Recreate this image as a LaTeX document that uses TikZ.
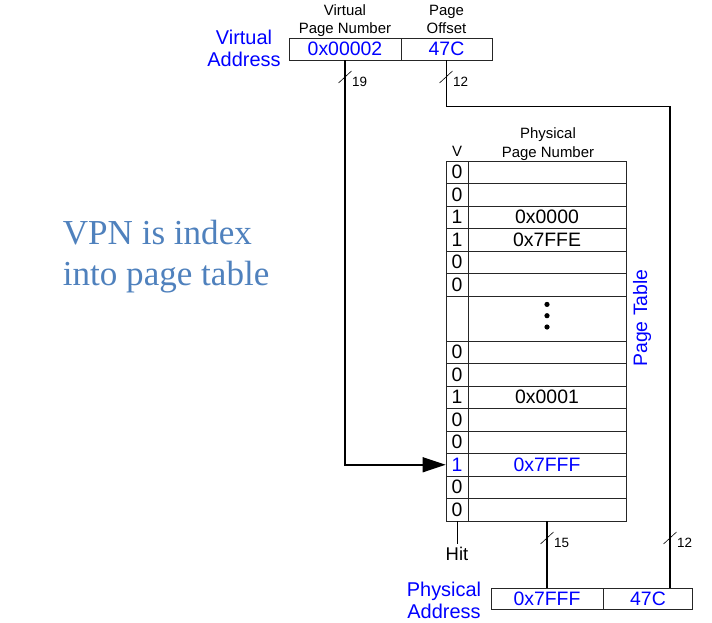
\documentclass[tikz,border=0pt]{standalone}
\usepackage{fontspec}
\setmainfont{Liberation Sans}
\newfontfamily\serifnote{Liberation Serif}
\usetikzlibrary{arrows.meta,calc}
\definecolor{notecolor}{RGB}{79,129,189}

\begin{document}
\begin{tikzpicture}[x=1bp,y=-1bp,
    wire/.style={line width=1.6bp},
    field/.style={draw=black!85, line width=0.8bp, minimum height=22bp, inner sep=0pt,
        text=blue, font=\fontsize{19.5}{21}\selectfont},
    vcell/.style={draw=black!85, line width=0.8bp, minimum width=22bp, minimum height=22.5bp,
        inner sep=0pt, font=\fontsize{19.5}{21}\selectfont},
    pcell/.style={vcell, minimum width=158bp},
    headtext/.style={font=\fontsize{15}{18.3}\selectfont, align=center, inner sep=0pt},
    busw/.style={font=\fontsize{13.5}{16}\selectfont, anchor=west, inner sep=0pt}]
    \useasboundingbox (0,0) rectangle (712,623);

    % virtual address
    \node[field, minimum width=112bp] (vpn) at (345,49) {0x00002};
    \node[field, minimum width=91bp] (voff) at (446.5,49) {47C};
    \node[text=blue, font=\fontsize{20}{22.7}\selectfont, align=center, inner sep=0pt] (vaddr) at (244,48.3) {Virtual\\Address};
    \node[headtext] (vpnlbl) at (345,20.7) {Virtual\\Page Number};
    \node[headtext] (offlbl) at (446.5,19.2) {Page\\Offset};

    % page table
    \foreach \i/\v/\p in {1/0/{},2/0/{},3/1/0x0000,4/1/0x7FFE,5/0/{},6/0/{},9/0/{},10/0/{},11/1/0x0001,12/0/{},13/0/{},15/0/{},16/0/{}} {
        \node[vcell] (v\i) at (457,{161+22.5*(\i-0.5)}) {\v};
        \node[pcell] (p\i) at (547,{161+22.5*(\i-0.5)}) {\p};
    }
    \node[vcell, text=blue] (v14) at (457,464.75) {1};
    \node[pcell, text=blue] (p14) at (547,464.75) {0x7FFF};
    \node[vcell, minimum height=45bp] (v7) at (457,318.5) {};
    \node[pcell, minimum height=45bp] (p7) at (547,318.5) {};
    \foreach \k in {-1,0,1}
        \fill (p7.center) ++(0,{11.3*\k-2.8}) circle[radius=2.6];
    \node[headtext] (ppnlbl) at (548,144.2) {Physical\\Page Number};
    \node[headtext] (vlbl) at (457,151.7) {V};
    \node[text=blue, font=\fontsize{19.5}{22}\selectfont, rotate=90, inner sep=0pt] (ptlbl) at (642,318) {Page Table};

    % physical address
    \node[field, minimum width=112bp, minimum height=21.3bp] (pppn) at (547,598.7) {0x7FFF};
    \node[field, minimum width=89.4bp, minimum height=21.3bp] (poff) at (648,598.7) {47C};
    \node[text=blue, font=\fontsize{20}{22}\selectfont, align=center, inner sep=0pt] (paddr) at (444,600) {Physical\\Address};
    \node[font=\fontsize{18.5}{20}\selectfont, inner sep=3bp] (hit) at (457,554) {Hit};

    % wires
    \coordinate (bend) at (670,106.7);
    \draw[wire, -{Triangle[length=23bp, width=15bp]}] (vpn.south) |- (v14.west);
    \draw[wire] (voff.south) |- (bend) -- (bend |- poff.north);
    \draw[wire] (p16.south) -- (pppn.north);
    \draw[line width=0.8bp] (v16.south) -- (hit.north);

    % bus widths
    \coordinate (m19) at (345,77);
    \coordinate (m12a) at (446,77);
    \coordinate (m15) at (547,538);
    \coordinate (m12b) at (670,538);
    \foreach \m/\w in {m19/19, m12a/12, m15/15, m12b/12} {
        \draw[line width=0.6bp] (\m) ++(-6.5,6) -- ++(13,-12);
        \node[busw] (w\m) at ($(\m)+(7,5)$) {\w};
    }

    \node[text=notecolor, font=\serifnote\fontsize{35.2}{40.7}\selectfont, align=left, anchor=west, inner sep=0pt] (note) at (62.7,256.6) {VPN is index\\into page table};
\end{tikzpicture}
\end{document}
